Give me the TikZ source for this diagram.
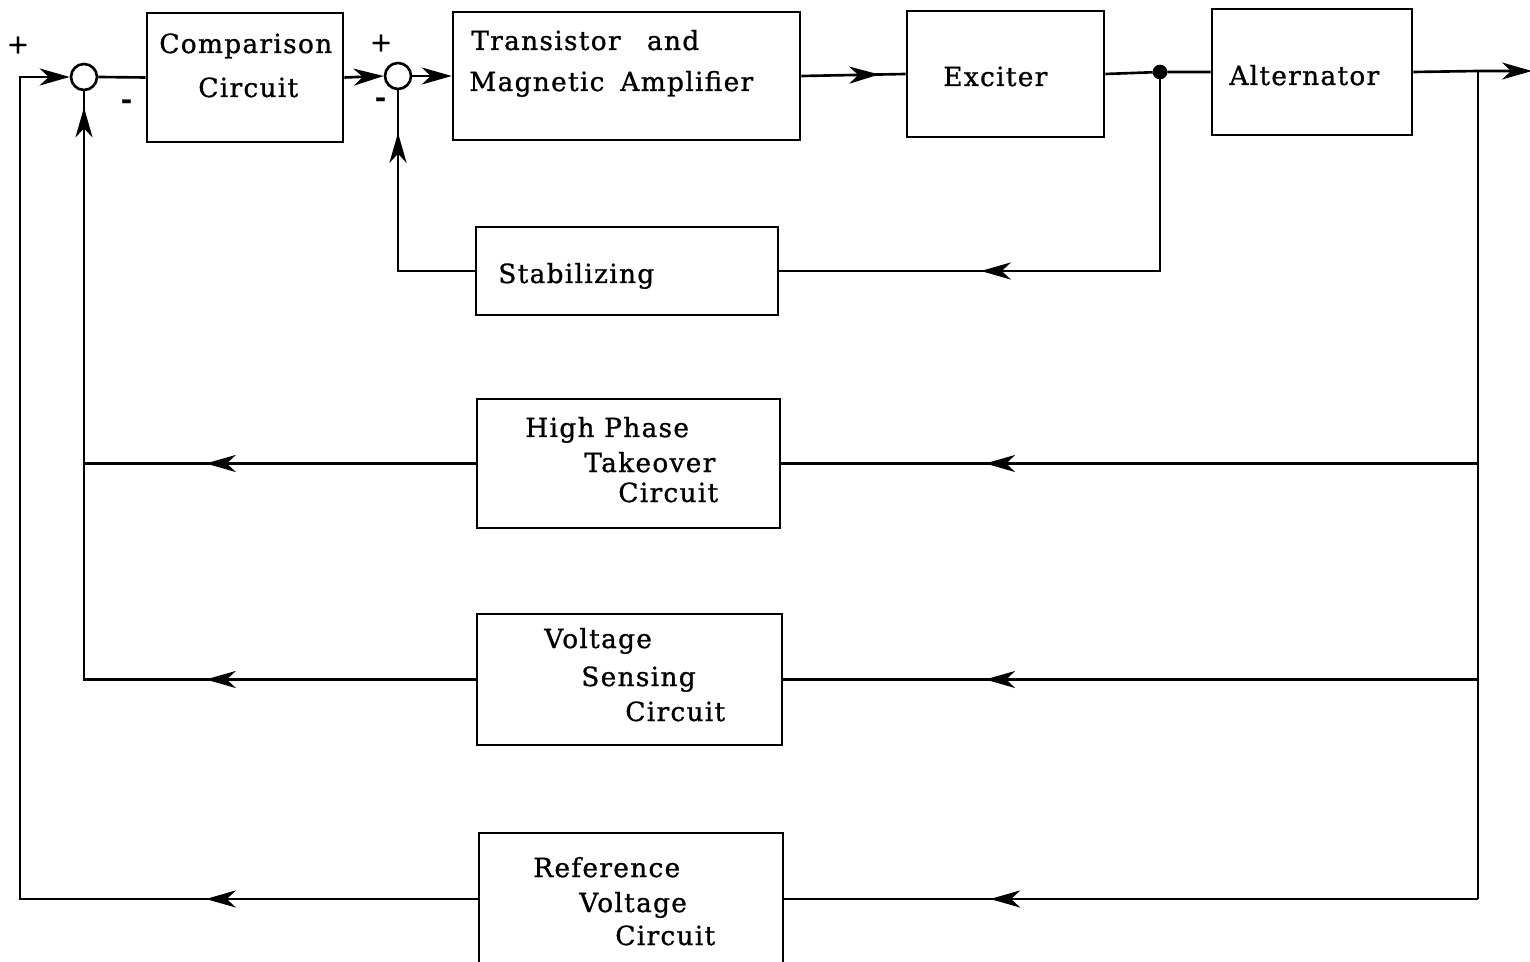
\documentclass[tikz,border=0pt]{standalone}
\usepackage{fontspec}
\setmainfont{DejaVu Serif}[LetterSpace=5, FakeBold=1]
\usetikzlibrary{arrows.meta,decorations.markings}

\begin{document}
\begin{tikzpicture}[x=0.02cm, y=-0.02cm, line width=1.5pt,
    >={Stealth[length=0.6cm, width=0.34cm, inset=0.18cm]},
    bloc/.style = {draw, rectangle, inner sep=0pt},
    somme/.style = {draw, circle, minimum size=0.52cm, inner sep=0pt},
    txt/.style = {anchor=base west, inner sep=0pt, font=\fontsize{15}{17}\selectfont},
    signe/.style = {inner sep=0pt, font=\fontsize{15}{17}\selectfont},
    mid/.style = {postaction={decorate, decoration={markings, mark=at position #1 with {\arrow{>}}}}}]
    \useasboundingbox (0,0) rectangle (1530,962);

    % Blocs
    \node[bloc, minimum width=3.92cm, minimum height=2.58cm] (comp) at (245,77.5) {};
    \node[bloc, minimum width=6.94cm, minimum height=2.56cm] (amp) at (626.5,76) {};
    \node[bloc, minimum width=3.94cm, minimum height=2.52cm] (exc) at (1005.5,74) {};
    \node[bloc, minimum width=4.00cm, minimum height=2.52cm] (alt) at (1312,72) {};
    \node[bloc, minimum width=6.04cm, minimum height=1.76cm] (stab) at (627,271) {};
    \node[bloc, minimum width=6.06cm, minimum height=2.58cm] (hpt) at (628.5,463.5) {};
    \node[bloc, minimum width=6.10cm, minimum height=2.62cm] (vsc) at (629.5,679.5) {};
    \node[bloc, minimum width=6.08cm, minimum height=2.64cm] (rvc) at (631,899) {};

    % Sommateurs et points
    \node[somme] (sum1) at (84,77) {};
    \node[somme] (sum2) at (398,76) {};
    \node[draw, circle, fill, minimum size=0.24cm, inner sep=0pt] (jn) at (1160,72) {};
    \coordinate (br) at (1478,71);
    \coordinate (out) at (1532,71);
    \coordinate (gauche) at (20,77);

    % Textes
    \node[txt] (comp-l1) at (158,53) {Comparison};
    \node[txt] (comp-l2) at (197,97) {Circuit};
    \node[txt] (amp-l1) at (470,50) {\makebox[100pt][l]{Transistor}and};
    \node[txt] (amp-l2) at (468,91) {\makebox[86pt][l]{Magnetic}Amplifier};
    \node[txt] (exc-l1) at (942,86) {Exciter};
    \node[txt] (alt-l1) at (1228,85) {Alternator};
    \node[txt] (stab-l1) at (497,283) {Stabilizing};
    \node[txt] (hpt-l1) at (524,437) {High Phase};
    \node[txt] (hpt-l2) at (583,472) {Takeover};
    \node[txt] (hpt-l3) at (617,502) {Circuit};
    \node[txt] (vsc-l1) at (543,648) {Voltage};
    \node[txt] (vsc-l2) at (580,686) {Sensing};
    \node[txt] (vsc-l3) at (624,721) {Circuit};
    \node[txt] (rvc-l1) at (532,877) {Reference};
    \node[txt] (rvc-l2) at (578,912) {Voltage};
    \node[txt] (rvc-l3) at (614,945) {Circuit};

    % Signes
    \node[signe] (p1) at (18,45) {+};
    \node[signe] (m1) at (127,104) {\textbf{-}};
    \node[signe] (p2) at (381,43) {+};
    \node[signe] (m2) at (381,102) {\textbf{-}};

    % Chaine directe
    \draw (sum1.east) -- (comp.west);
    \draw[->] (comp.east) -- (sum2.west);
    \draw[->] (sum2.east) -- (amp.west);
    \draw[mid=1.56cm] (amp.east) -- (exc.west);
    \draw (exc.east) -- (jn) -- (alt.west);
    \draw[->] (alt.east) -- (br) -- (out);

    % Retours
    \draw[mid=7.42cm] (jn) |- (stab.east);
    \draw[mid=4.3cm] (stab.west) -| (sum2.south);
    \draw (br) -- (br |- rvc.east);
    \draw[mid=9.86cm] (br |- hpt.east) -- (hpt.east);
    \draw[mid=9.86cm] (br |- vsc.east) -- (vsc.east);
    \draw[mid=9.76cm] (br |- rvc.east) -- (rvc.east);
    \draw[mid=5.4cm] (hpt.west) -- (hpt.west -| sum1);
    \draw[mid=5.4cm, mid=19.28cm] (vsc.west) -| (sum1.south);
    \draw[mid=5.44cm, ->] (rvc.west) -| (gauche) -- (sum1.west);
\end{tikzpicture}
\end{document}
